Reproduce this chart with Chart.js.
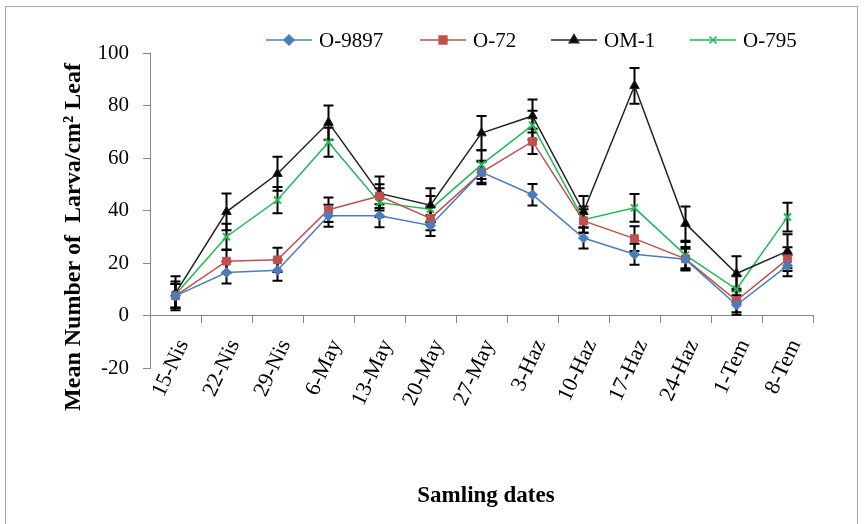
<!DOCTYPE html>
<html>
<head>
<meta charset="utf-8">
<script src="https://cdn.jsdelivr.net/npm/chart.js@4.4.1/dist/chart.umd.min.js"></script>
<style>
    html, body { margin: 0; padding: 0; background: #fff; }
    #moldura { position: absolute; left: 5px; top: 6px; width: 853px; height: 540px; border: 1px solid #a6a6a6; box-sizing: border-box; }
    #grafico { position: absolute; left: 0; top: 0; }
</style>
</head>
<body>
<div id="moldura"></div>
<canvas id="grafico" width="868" height="524"></canvas>
<script>
// Datas de amostragem (eixo x)
const datas = ['15-Nis', '22-Nis', '29-Nis', '6-May', '13-May', '20-May', '27-May', '3-Haz', '10-Haz', '17-Haz', '24-Haz', '1-Tem', '8-Tem'];

// Médias por variedade
const o9897 = [7.5, 16.4, 17.2, 38, 38, 34.3, 54.6, 46, 29.5, 23.3, 21.4, 4, 19];
const o72 = [7.5, 20.7, 21.2, 40.3, 45.5, 37, 54.5, 66.3, 36, 29.3, 21.6, 5.7, 21.5];
const om1 = [8.5, 39.5, 54, 73.5, 46.5, 42, 69.5, 76, 39.5, 87.5, 35, 16, 24.5];
const o795 = [8, 30, 44, 66, 43, 40.5, 57.5, 72.5, 36.5, 41, 23, 10, 37.5];

// Erro padrão de cada ponto
const erro9897 = [4.5, 4.2, 4, 4.2, 4.4, 4, 4, 4.1, 4, 4, 4, 3.7, 4];
const erro72 = [4.5, 4.4, 4.6, 4.7, 4.5, 4.5, 4.5, 4.8, 4.5, 4.7, 4.5, 4.5, 4.5];
const erroOm1 = [6.5, 7, 6.5, 6.5, 6.5, 6.5, 6.5, 6.3, 6, 6.8, 6.5, 6.6, 6.5];
const erro795 = [5, 5, 5, 5.5, 5.5, 5, 5.5, 5.5, 5, 5.3, 5, 5, 5.5];

// Marcas do eixo y
const ticksY = [-20, 0, 20, 40, 60, 80, 100];

const fonteSerif = 'Liberation Serif, Times New Roman, serif';

// Barras de erro desenhadas com as escalas do gráfico
const barrasErro = {
    id: 'barrasErro',
    beforeDatasetsDraw(chart) {
        const ctx = chart.ctx;
        const x = chart.scales.x;
        const y = chart.scales.y;
        ctx.save();
        ctx.strokeStyle = '#000';
        ctx.lineWidth = 2;
        chart.data.datasets.forEach(ds => {
            ds.data.forEach((v, i) => {
                const e = ds.erros[i];
                const px = x.getPixelForValue(i);
                const topo = y.getPixelForValue(v + e);
                const base = y.getPixelForValue(v - e);
                ctx.beginPath();
                ctx.moveTo(px, topo);
                ctx.lineTo(px, base);
                ctx.moveTo(px - 5, topo);
                ctx.lineTo(px + 5, topo);
                ctx.moveTo(px - 5, base);
                ctx.lineTo(px + 5, base);
                ctx.stroke();
            });
        });
        ctx.restore();
    }
};

// Legenda com linha e marcador, como no original
const legendaLinha = {
    id: 'legendaLinha',
    afterDraw(chart) {
        const ctx = chart.ctx;
        const posicoes = [266, 420, 551, 690];
        const yLeg = 40;
        ctx.save();
        chart.data.datasets.forEach((ds, i) => {
            const x0 = posicoes[i];
            ctx.strokeStyle = ds.borderColor;
            ctx.fillStyle = ds.backgroundColor;
            ctx.lineWidth = 1.5;
            ctx.beginPath();
            ctx.moveTo(x0, yLeg);
            ctx.lineTo(x0 + 46, yLeg);
            ctx.stroke();
            Chart.helpers.drawPoint(ctx, {
                pointStyle: ds.pointStyle,
                radius: ds.pointRadius,
                borderWidth: ds.pointBorderWidth,
                rotation: 0
            }, x0 + 23, yLeg);
            ctx.fillStyle = '#000';
            ctx.font = '21px ' + fonteSerif;
            ctx.textBaseline = 'middle';
            ctx.textAlign = 'left';
            ctx.fillText(ds.label, x0 + 53, yLeg + 1);
        });
        ctx.restore();
    }
};

// Títulos dos eixos
const titulosEixos = {
    id: 'titulosEixos',
    afterDraw(chart) {
        const ctx = chart.ctx;
        ctx.save();
        ctx.fillStyle = '#000';
        ctx.textAlign = 'center';
        ctx.textBaseline = 'middle';
        ctx.font = 'bold 23px ' + fonteSerif;
        ctx.fillText('Samling dates', 486, 496);
        ctx.font = 'bold 24px ' + fonteSerif;
        ctx.translate(74, 237);
        ctx.rotate(-Math.PI / 2);
        ctx.fillText('Mean Number of  Larva/cm\u00B2 Leaf', 0, 0);
        ctx.restore();
    }
};

new Chart(document.getElementById('grafico'), {
    type: 'line',
    data: {
        labels: datas,
        datasets: [
            {
                label: 'O-9897', data: o9897, erros: erro9897,
                borderColor: '#4A7EBB', backgroundColor: '#4A7EBB',
                pointStyle: 'rectRot', pointRadius: 5, pointBorderWidth: 1, borderWidth: 1.5
            },
            {
                label: 'O-72', data: o72, erros: erro72,
                borderColor: '#C0504D', backgroundColor: '#C0504D',
                pointStyle: 'rect', pointRadius: 5.5, pointBorderWidth: 1, borderWidth: 1.5
            },
            {
                label: 'OM-1', data: om1, erros: erroOm1,
                borderColor: '#222222', backgroundColor: '#000000',
                pointStyle: 'triangle', pointRadius: 5.5, pointBorderWidth: 1, borderWidth: 1.5
            },
            {
                label: 'O-795', data: o795, erros: erro795,
                borderColor: '#1DB954', backgroundColor: '#1DB954',
                pointStyle: 'crossRot', pointRadius: 5, pointBorderWidth: 2, borderWidth: 1.5
            }
        ]
    },
    options: {
        responsive: false,
        animation: false,
        layout: {
            padding: { left: 0, top: 53, right: 55, bottom: 156 }
        },
        plugins: {
            legend: { display: false },
            tooltip: { enabled: false }
        },
        scales: {
            x: {
                position: { y: 0 },
                offset: true,
                grid: { offset: true, drawOnChartArea: false, tickLength: 7, color: '#868686' },
                border: { color: '#868686' },
                ticks: {
                    color: '#000',
                    font: { family: fonteSerif, size: 22 },
                    minRotation: 65,
                    maxRotation: 65,
                    autoSkip: false,
                    labelOffset: 8,
                    padding: 13
                }
            },
            y: {
                min: ticksY[0],
                max: ticksY[ticksY.length - 1],
                afterBuildTicks: s => { s.ticks = ticksY.map(v => ({ value: v })); },
                afterFit: s => { s.width = 150; },
                grid: { drawOnChartArea: false, tickLength: 7, color: '#868686' },
                border: { color: '#868686' },
                ticks: {
                    color: '#000',
                    font: { family: fonteSerif, size: 21 },
                    padding: 14
                }
            }
        }
    },
    plugins: [barrasErro, legendaLinha, titulosEixos]
});
</script>
</body>
</html>
